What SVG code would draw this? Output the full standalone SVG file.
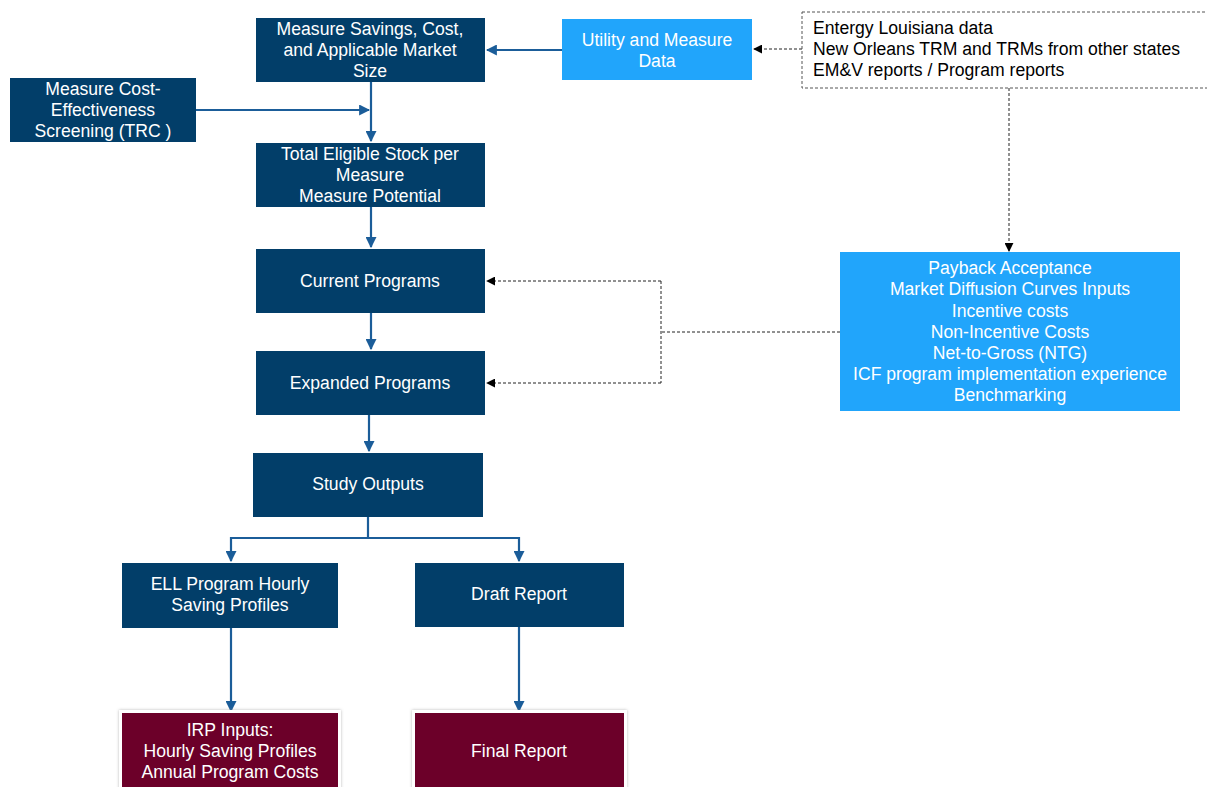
<svg xmlns="http://www.w3.org/2000/svg" width="1207" height="787" viewBox="0 0 1207 787">
<defs>
<style>
.dk{fill:#023e69}
.lb{fill:#21a5fb}
.mr{fill:#6c0029}
.t{font-family:"Liberation Sans",Arial,sans-serif;font-size:17.6px;fill:#fff;text-anchor:middle}
.tb{font-family:"Liberation Sans",Arial,sans-serif;font-size:17.6px;fill:#000}
.ln{stroke:#1b5d99;stroke-width:2.2;fill:none}
.dl{stroke:#222;stroke-width:1;stroke-dasharray:3,2;fill:none}
</style>
<marker id="ah" viewBox="0 0 10 10" refX="9" refY="5" markerWidth="5" markerHeight="5" orient="auto" markerUnits="strokeWidth"><path d="M0,0 L10,5 L0,10 z" fill="#1b5d99"/></marker>
<marker id="ad" viewBox="0 0 10 10" refX="9" refY="5" markerWidth="9" markerHeight="9" orient="auto" markerUnits="strokeWidth"><path d="M0,0 L10,5 L0,10 z" fill="#000"/></marker>
<filter id="sh" x="-10%" y="-10%" width="120%" height="130%"><feDropShadow dx="0" dy="0" stdDeviation="1.5" flood-color="#888" flood-opacity="0.6"/></filter>
</defs>
<rect width="1207" height="787" fill="#fff"/>
<g id="connectors">
<line class="ln" x1="562" y1="50" x2="487" y2="50" marker-end="url(#ah)"/>
<line class="ln" x1="196" y1="110" x2="369" y2="110" marker-end="url(#ah)"/>
<line class="ln" x1="371" y1="82" x2="371" y2="141" marker-end="url(#ah)"/>
<line class="ln" x1="371" y1="207" x2="371" y2="247" marker-end="url(#ah)"/>
<line class="ln" x1="371" y1="313" x2="371" y2="349" marker-end="url(#ah)"/>
<line class="ln" x1="369" y1="415" x2="369" y2="451" marker-end="url(#ah)"/>
<polyline class="ln" points="368,517 368,538 231,538 231,561" marker-end="url(#ah)"/>
<polyline class="ln" points="368,538 519,538 519,561" marker-end="url(#ah)"/>
<line class="ln" x1="231" y1="628" x2="231" y2="711" marker-end="url(#ah)"/>
<line class="ln" x1="519" y1="627" x2="519" y2="711" marker-end="url(#ah)"/>
<line class="dl" x1="802" y1="49" x2="754" y2="49" marker-end="url(#ad)"/>
<line class="dl" x1="1009" y1="88" x2="1009" y2="251" marker-end="url(#ad)"/>
<polyline class="dl" points="840,332 661,332"/>
<polyline class="dl" points="661,281 661,383"/>
<line class="dl" x1="661" y1="281" x2="487" y2="281" marker-end="url(#ad)"/>
<line class="dl" x1="661" y1="383" x2="487" y2="383" marker-end="url(#ad)"/>
</g>
<g id="n-savings"><rect class="dk" x="256" y="18" width="229" height="64"/><text class="t" x="370" y="35">Measure Savings, Cost,</text><text class="t" x="370" y="56">and Applicable Market</text><text class="t" x="370" y="77">Size</text></g>
<g id="n-screening"><rect class="dk" x="10" y="78" width="186" height="64"/><text class="t" x="103" y="95">Measure Cost-</text><text class="t" x="103" y="116">Effectiveness</text><text class="t" x="103" y="137">Screening (TRC )</text></g>
<g id="n-utility"><rect class="lb" x="562" y="19" width="190" height="61"/><text class="t" x="657" y="46">Utility and Measure</text><text class="t" x="657" y="67">Data</text></g>
<g id="n-sources"><rect x="802" y="12" width="410" height="76" fill="none" stroke="#555" stroke-width="1" stroke-dasharray="3,2"/><text class="tb" x="813" y="34">Entergy Louisiana data</text><text class="tb" x="813" y="55">New Orleans TRM and TRMs from other states</text><text class="tb" x="813" y="76">EM&amp;V reports / Program reports</text></g>
<g id="n-stock"><rect class="dk" x="256" y="143" width="229" height="64"/><text class="t" x="370" y="160">Total Eligible Stock per</text><text class="t" x="370" y="181">Measure</text><text class="t" x="370" y="202">Measure Potential</text></g>
<g id="n-current"><rect class="dk" x="256" y="249" width="229" height="64"/><text class="t" x="370" y="287">Current Programs</text></g>
<g id="n-expanded"><rect class="dk" x="256" y="351" width="229" height="64"/><text class="t" x="370" y="389">Expanded Programs</text></g>
<g id="n-payback"><rect class="lb" x="840" y="252" width="340" height="159"/>
<text class="t" x="1010" y="274">Payback Acceptance</text>
<text class="t" x="1010" y="295">Market Diffusion Curves Inputs</text>
<text class="t" x="1010" y="317">Incentive costs</text>
<text class="t" x="1010" y="338">Non-Incentive Costs</text>
<text class="t" x="1010" y="359">Net-to-Gross (NTG)</text>
<text class="t" x="1010" y="380">ICF program implementation experience</text>
<text class="t" x="1010" y="401">Benchmarking</text></g>
<g id="n-study"><rect class="dk" x="253" y="453" width="230" height="64"/><text class="t" x="368" y="490">Study Outputs</text></g>
<g id="n-ell"><rect class="dk" x="122" y="563" width="216" height="65"/><text class="t" x="230" y="590">ELL Program Hourly</text><text class="t" x="230" y="611">Saving Profiles</text></g>
<g id="n-draft"><rect class="dk" x="415" y="563" width="209" height="64"/><text class="t" x="519" y="600">Draft Report</text></g>
<g id="n-irp"><rect x="119" y="710" width="222" height="82" fill="#fff" filter="url(#sh)"/><rect class="mr" x="122" y="713" width="216" height="80"/><text class="t" x="230" y="736">IRP Inputs:</text><text class="t" x="230" y="757">Hourly Saving Profiles</text><text class="t" x="230" y="778">Annual Program Costs</text></g>
<g id="n-final"><rect x="412" y="710" width="215" height="82" fill="#fff" filter="url(#sh)"/><rect class="mr" x="415" y="713" width="209" height="80"/><text class="t" x="519" y="757">Final Report</text></g>
</svg>
